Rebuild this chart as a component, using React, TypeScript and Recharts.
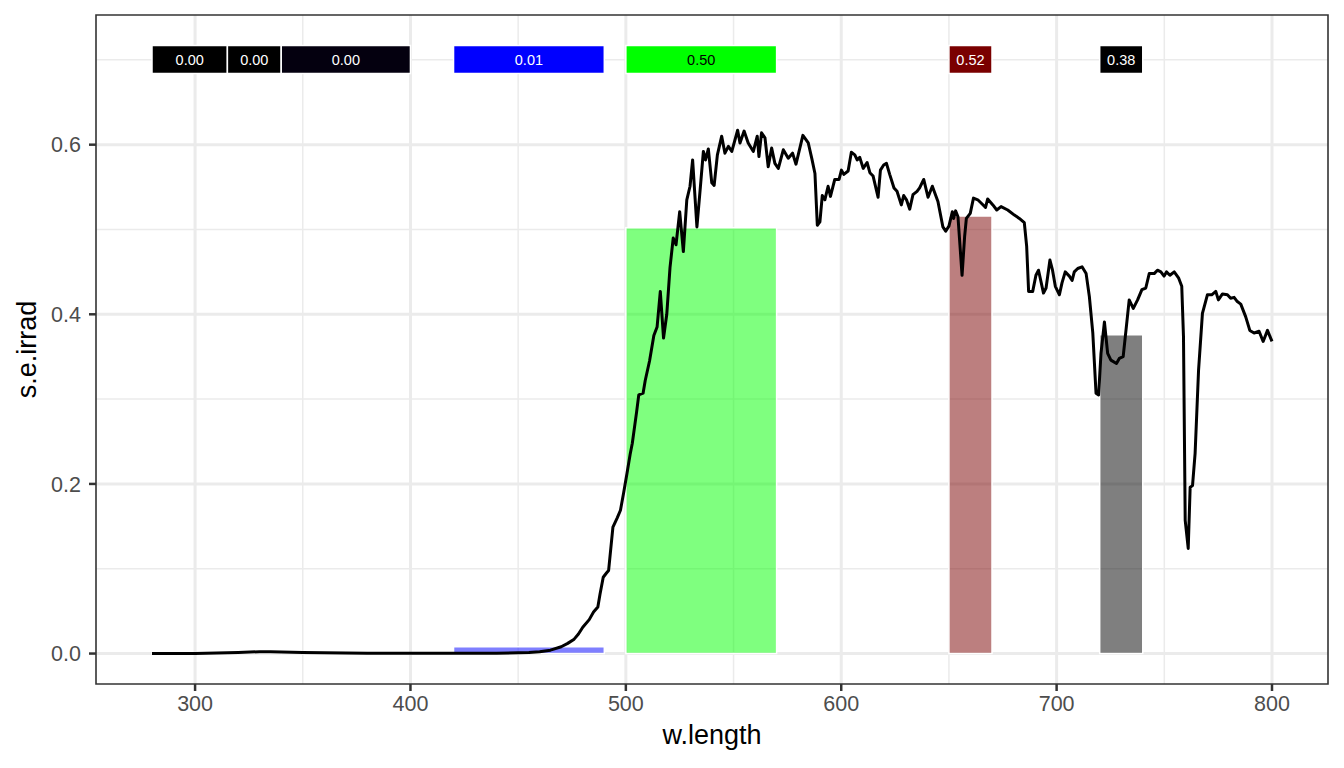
import React from 'react';
import { ComposedChart, Line, XAxis, YAxis, CartesianGrid, ReferenceArea, Label } from 'recharts';

// spectrum (nm / irradiance)
const WAVELENGTHS = [
  280, 290, 300, 310, 320, 330, 335, 340, 350, 360, 380, 400, 420, 440, 450, 455, 460, 465, 470, 473,
  476, 478, 480, 483, 485, 487, 488, 489.5, 491, 492, 494, 496, 497.5, 499, 500.5, 502, 503, 505, 506, 508,
  509, 511, 513, 514.5, 516, 517.5, 519, 520.5, 522, 523.3, 525, 526.7, 528.3, 529.8, 531, 533, 534.5, 536, 537, 538.3,
  539.9, 541, 542.5, 544.5, 546, 547.6, 549.2, 551.9, 553, 554.9, 556.8, 559.2, 561, 561.8, 563, 564.6, 566.1, 567.7, 569.2, 570.8,
  573.1, 575.4, 577.4, 579, 582.2, 584.7, 586.4, 587.8, 588.9, 590.1, 591.2, 592.4, 593.9, 595, 597, 599, 600.1, 601.2, 603.2, 604.7,
  606.3, 607.4, 608.6, 610.2, 612, 613.3, 614.8, 617.1, 618.2, 619.7, 621, 622.5, 624.5, 625.9, 627.9, 629, 630.3, 631.8, 633.3, 635.2,
  636.4, 638.3, 640.3, 642.3, 644.9, 647.2, 648.5, 650, 651.6, 652.2, 653.1, 654.2, 656.1, 657.3, 658.1, 659.9, 661.4, 663.4, 665.4, 667,
  668, 670.4, 672.2, 674.2, 677.3, 680.4, 682.7, 685, 686.1, 687, 688.9, 690.4, 691.6, 693.9, 695.1, 696.9, 698.1, 699.4, 701.3, 702.5,
  704, 705.9, 707.2, 708.2, 709.8, 711.8, 713.7, 715.2, 716.8, 718.3, 719.5, 720.6, 722.2, 723.7, 725.2, 727.8, 729.1, 730.9, 732.2, 733.7,
  735.6, 737.6, 739.6, 741.4, 743, 745.3, 746.8, 748.4, 749.9, 751, 752.6, 754.6, 756.6, 758.1, 758.9, 759.7, 761.1, 762, 763.1, 764.3,
  765.9, 767.7, 770, 772, 773.9, 775.1, 777, 779.3, 780.8, 782.4, 783.9, 785.5, 787.8, 789.7, 791.7, 794, 795.9, 797.9, 800,
];
const IRRADIANCE = [
  0, 0, 0.0002, 0.0006, 0.0012, 0.0022, 0.0022, 0.0018, 0.0012, 0.0008, 0.0004, 0.0003, 0.0003, 0.0005, 0.0008, 0.0012, 0.002, 0.004, 0.008, 0.012,
  0.017, 0.023, 0.031, 0.04, 0.049, 0.055, 0.07, 0.09, 0.095, 0.098, 0.149, 0.16, 0.169, 0.19, 0.212, 0.235, 0.248, 0.285, 0.305, 0.307,
  0.322, 0.345, 0.375, 0.385, 0.427, 0.372, 0.4, 0.455, 0.49, 0.482, 0.521, 0.474, 0.535, 0.551, 0.582, 0.503, 0.547, 0.592, 0.582, 0.595,
  0.555, 0.552, 0.588, 0.61, 0.59, 0.598, 0.592, 0.617, 0.602, 0.616, 0.602, 0.592, 0.61, 0.586, 0.614, 0.608, 0.574, 0.596, 0.578, 0.572,
  0.594, 0.584, 0.59, 0.577, 0.611, 0.602, 0.583, 0.566, 0.505, 0.509, 0.54, 0.535, 0.551, 0.539, 0.559, 0.559, 0.57, 0.565, 0.569, 0.591,
  0.588, 0.582, 0.585, 0.572, 0.579, 0.567, 0.563, 0.538, 0.57, 0.576, 0.578, 0.565, 0.549, 0.545, 0.529, 0.54, 0.535, 0.524, 0.541, 0.545,
  0.549, 0.559, 0.538, 0.551, 0.533, 0.503, 0.498, 0.504, 0.521, 0.513, 0.522, 0.515, 0.446, 0.492, 0.513, 0.519, 0.537, 0.535, 0.53, 0.526,
  0.536, 0.529, 0.523, 0.527, 0.523, 0.517, 0.513, 0.508, 0.48, 0.427, 0.427, 0.446, 0.452, 0.425, 0.431, 0.464, 0.452, 0.433, 0.423, 0.437,
  0.45, 0.445, 0.44, 0.45, 0.454, 0.456, 0.448, 0.421, 0.378, 0.307, 0.305, 0.354, 0.391, 0.354, 0.346, 0.342, 0.348, 0.35, 0.381, 0.417,
  0.407, 0.417, 0.429, 0.431, 0.448, 0.448, 0.452, 0.45, 0.445, 0.45, 0.446, 0.45, 0.443, 0.433, 0.374, 0.157, 0.124, 0.196, 0.198, 0.236,
  0.334, 0.401, 0.423, 0.423, 0.427, 0.417, 0.424, 0.423, 0.419, 0.42, 0.415, 0.412, 0.397, 0.381, 0.378, 0.38, 0.368, 0.381, 0.368,
];

// wavebands
const BAND_START = [280, 315, 340, 420, 500, 650, 720];
const BAND_END = [315, 340, 400, 490, 570, 670, 740];
const BAND_MEAN = [0.0003, 0.0015, 0.0006, 0.008, 0.502, 0.516, 0.376];
const BAND_LABELS = ['0.00', '0.00', '0.00', '0.01', '0.50', '0.52', '0.38'];
const BAND_COLORS = ['#000000', '#000000', '#04000F', '#0000FF', '#00FF00', '#7A0000', '#000000'];
const BAND_TEXT = ['#FFFFFF', '#FFFFFF', '#FFFFFF', '#FFFFFF', '#000000', '#FFFFFF', '#FFFFFF'];

const X_TICKS = [300, 400, 500, 600, 700, 800];
const X_MINOR = [350, 450, 550, 650, 750];
const Y_TICKS = [0, 0.2, 0.4, 0.6];
const Y_MINOR = [0.1, 0.3, 0.5, 0.7];

const X_DOMAIN: [number, number] = [254, 826];
const Y_DOMAIN: [number, number] = [-0.0359, 0.7529];
const LABEL_LOW = 0.684;
const LABEL_HIGH = 0.717;

const FONT = '"Liberation Sans", Arial, sans-serif';

const data = WAVELENGTHS.map((w, i) => ({ w, irrad: IRRADIANCE[i] }));

const App: React.FC = () => {
  return (
    <div style={{ position: 'absolute', left: 0, top: 0, background: '#fff', fontFamily: FONT }}>
      <ComposedChart width={1344} height={768} data={data} margin={{ top: 15, right: 16, bottom: 0, left: 0 }}>
        <CartesianGrid stroke="#EBEBEB" strokeWidth={1.5} verticalValues={X_MINOR} horizontalValues={Y_MINOR} />
        <CartesianGrid stroke="#EBEBEB" strokeWidth={3} verticalValues={X_TICKS} horizontalValues={Y_TICKS} />
        <XAxis
          dataKey="w"
          type="number"
          domain={X_DOMAIN}
          ticks={X_TICKS}
          allowDataOverflow
          axisLine={false}
          tickLine={{ stroke: '#333333', strokeWidth: 2.5 }}
          tickSize={7}
          tickMargin={5}
          height={84}
          tick={{ fill: '#4D4D4D', fontSize: 21.5, fontFamily: FONT }}
        >
          <Label
            content={({ viewBox }: any) => (
              <text x={viewBox.x + viewBox.width / 2} y={viewBox.y + 60} textAnchor="middle" fontSize={27} fontFamily={FONT} fill="#000">
                w.length
              </text>
            )}
          />
        </XAxis>
        <YAxis
          type="number"
          domain={Y_DOMAIN}
          ticks={Y_TICKS}
          allowDataOverflow
          axisLine={false}
          tickLine={{ stroke: '#333333', strokeWidth: 2.5 }}
          tickSize={7}
          tickMargin={8}
          width={96}
          tickFormatter={(v: number) => v.toFixed(1)}
          tick={{ fill: '#4D4D4D', fontSize: 21.5, fontFamily: FONT }}
        >
          <Label
            content={({ viewBox }: any) => {
              const cx = 36;
              const cy = viewBox.y + viewBox.height / 2;
              return (
                <text x={cx} y={cy} transform={`rotate(-90, ${cx}, ${cy})`} textAnchor="middle" fontSize={27} fontFamily={FONT} fill="#000">
                  s.e.irrad
                </text>
              );
            }}
          />
        </YAxis>

        {/* waveband mean irradiance */}
        {BAND_START.map((start, i) => (
          <ReferenceArea
            key={`bar-${i}`}
            x1={start}
            x2={BAND_END[i]}
            y1={0}
            y2={BAND_MEAN[i]}
            fill={BAND_COLORS[i]}
            fillOpacity={0.5}
            stroke="#FFFFFF"
            strokeWidth={1.5}
          />
        ))}

        <Line
          dataKey="irrad"
          type="linear"
          stroke="#000000"
          strokeWidth={3}
          strokeLinejoin="round"
          dot={false}
          isAnimationActive={false}
        />

        {/* waveband labels */}
        {BAND_START.map((start, i) => (
          <ReferenceArea
            key={`lab-${i}`}
            x1={start}
            x2={BAND_END[i]}
            y1={LABEL_LOW}
            y2={LABEL_HIGH}
            fill={BAND_COLORS[i]}
            fillOpacity={1}
            stroke="#FFFFFF"
            strokeWidth={1.5}
            label={{ value: BAND_LABELS[i], position: 'center', fill: BAND_TEXT[i], fontSize: 14.5, fontFamily: FONT }}
          />
        ))}

        {/* panel border */}
        <ReferenceArea x1={X_DOMAIN[0]} x2={X_DOMAIN[1]} y1={Y_DOMAIN[0]} y2={Y_DOMAIN[1]} fill="none" stroke="#333333" strokeWidth={1.6} />
      </ComposedChart>
    </div>
  );
};

export default App;
